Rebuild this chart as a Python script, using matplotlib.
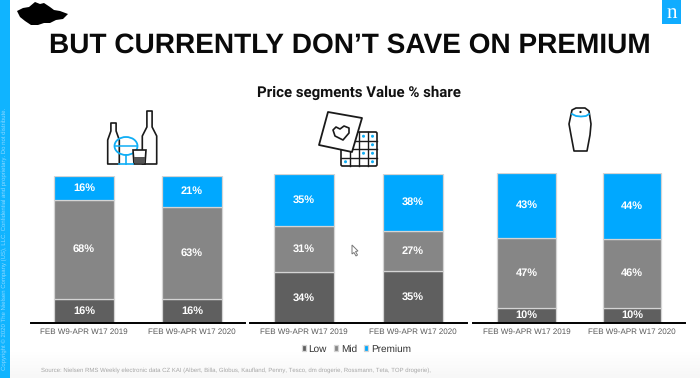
import matplotlib
matplotlib.use("Agg")
import matplotlib.pyplot as plt
from matplotlib.patches import Polygon, Rectangle, FancyBboxPatch, Circle, Ellipse
import numpy as np

plt.rcParams['font.family'] = ['Liberation Sans', 'DejaVu Sans']
plt.rcParams['text.hinting'] = 'no_hinting'
plt.rcParams['text.hinting_factor'] = 1

periods = ["FEB W9-APR W17 2019", "FEB W9-APR W17 2020"]
segments = ["Low", "Mid", "Premium"]
low_values = [[16, 16], [34, 35], [10, 10]]
mid_values = [[68, 63], [31, 27], [47, 46]]
premium_values = [[16, 21], [35, 38], [43, 44]]
title_text = "BUT CURRENTLY DON\u2019T SAVE ON PREMIUM"
subtitle_text = "Price segments Value % share"
source_text = ("Source: Nielsen RMS Weekly electronic data CZ KAI (Albert, Billa, Globus, Kaufland, "
               "Penny, Tesco, dm drogerie, Rossmann, Teta, TOP drogerie),")
copyright_text = ("Copyright \u00a9 2020 The Nielsen Company (US), LLC. Confidential and proprietary. "
                  "Do not distribute.")

COLORS = ["#5f5f5f", "#868686", "#00a8ff"]
W, H = 700, 378
fig = plt.figure(figsize=(7, 3.78), dpi=100, facecolor="white")

# pixel-space overlay for slide furniture
bg = fig.add_axes([0, 0, 1, 1], zorder=0)
bg.set_xlim(0, W); bg.set_ylim(H, 0); bg.axis("off")

# left strip
bg.add_patch(Rectangle((0, 0), 10, H, color="#10b4ff", lw=0))
bg.text(4.5, 370, copyright_text, rotation=90, ha="center", va="bottom",
        fontsize=4.1, color="#8fd9ff")
# soft bottom fade
bg.imshow(np.linspace(1, 0.965, 30)[:, None], extent=(10, W, H, H - 30), cmap="gray",
          vmin=0, vmax=1, aspect="auto", zorder=0)
bg.set_xlim(0, W); bg.set_ylim(H, 0)

# map of the country
czech = [(17, 11), (23, 8), (29, 7), (35, 2), (40, 4), (44, 3), (50, 7), (54, 10), (60, 11),
         (68, 14), (63, 19), (56, 20), (50, 23), (44, 23), (38, 25), (31, 25), (25, 21), (20, 17)]
bg.add_patch(Polygon(czech, closed=True, color="black", lw=0))

# logo
bg.add_patch(Rectangle((662, 0), 19, 24, color="#10acff", lw=0))
bg.text(671.5, 13, "n", color="white", family="Liberation Serif", fontsize=15, ha="center", va="center")

bg.text(350, 45, title_text, ha="center", va="center", fontsize=20.45, fontweight="bold", color="#0a0a0a")
bg.text(359, 93, subtitle_text, ha="center", va="center", fontsize=10.6, fontweight="bold",
        family="Roboto", color="#111111")

# --- icons ---
K = "#1a1a1a"; B = "#10aef5"
def bottle(cx, top, bottom, half, neck, shoulder):
    pts = [(cx - neck, top), (cx + neck, top), (cx + neck, shoulder), (cx + half, shoulder + 9),
           (cx + half, bottom), (cx - half, bottom), (cx - half, shoulder + 9), (cx - neck, shoulder)]
    bg.add_patch(Polygon(pts, closed=True, fill=False, ec=K, lw=1.2, joinstyle="round"))
bottle(113.5, 123, 164, 5.8, 2.6, 131)
bottle(149.5, 111, 164, 7.2, 2.6, 127)
bg.add_patch(Ellipse((126, 146), 23, 18, fill=False, ec=B, lw=1.3))
bg.plot([115, 137], [146, 146], color=B, lw=1.1)
bg.plot([126, 126], [155, 164], color=B, lw=1.2)
bg.plot([119, 133], [164, 164], color=B, lw=1.2)
bg.add_patch(Polygon([(133, 150), (146, 150), (145, 164), (134, 164)], closed=True, fc="white", ec=K, lw=1.2))
bg.add_patch(Rectangle((134, 157), 11, 6, color="#555555", lw=0))

# grid and card
gx, gy, cw, ch = 341, 132, 9, 8.5
bg.add_patch(FancyBboxPatch((gx, gy), 4 * cw, 4 * ch, boxstyle="round,pad=0,rounding_size=1.5",
                            fc="white", ec=K, lw=1.2))
for i in range(1, 4):
    bg.plot([gx + i * cw] * 2, [gy, gy + 4 * ch], color=K, lw=1)
    bg.plot([gx, gx + 4 * cw], [gy + i * ch] * 2, color=K, lw=1)
for c, r in [(2, 0), (3, 0), (3, 1), (2, 2), (3, 2), (0, 3), (3, 3)]:
    bg.add_patch(Circle((gx + (c + .5) * cw, gy + (r + .5) * ch), 1.5, color=B, lw=0))
bg.add_patch(Polygon([(328, 112), (362, 118), (352, 152), (319, 145)], closed=True,
                     fc="white", ec=K, lw=1.3, joinstyle="round", zorder=3))
heart = [(340, 129), (344, 126), (349, 128), (349, 133), (343, 140), (335, 136), (333, 130), (336, 127)]
bg.add_patch(Polygon(heart, closed=True, fill=False, ec=K, lw=1.2, joinstyle="round", zorder=4))

# spray bottle
sb = [(572, 110), (576, 108), (585, 108), (589, 111), (591, 124), (590, 135), (587, 151),
      (574, 151), (571, 135), (569, 124)]
bg.add_patch(Polygon(sb, closed=True, fill=False, ec=K, lw=1.2, joinstyle="round"))
bg.plot([572, 576, 581, 586, 589], [114, 116, 116.5, 116, 114], color=B, lw=1.3)
bg.add_patch(Circle((580.5, 112), 1.1, color=K, lw=0))

# cursor
bg.add_patch(Polygon([(352, 245), (352, 254), (354, 252.5), (356, 256), (357.5, 255), (355.5, 251.5), (358, 251)],
                     closed=True, fc="white", ec="#777777", lw=0.7))

bg.text(41, 370.5, source_text, ha="left", va="center", fontsize=4.1, color="#a6a6a6")

# --- charts ---
# x0, x1, top-of-100% pixel, baseline pixel, bar centres, bar width
panels = [
    (31, 245, 176, 323, (84, 192), 60),
    (250, 467, 174, 323, (304, 412.5), 60),
    (473, 685, 173, 323, (526.5, 632), 58.5),
]
containers = None
for i, (x0, x1, top, base, centres, bw) in enumerate(panels):
    ax = fig.add_axes([x0 / W, 1 - base / H, (x1 - x0) / W, (base - top) / H], zorder=2)
    ax.patch.set_alpha(0)
    ax.set_xlim(x0, x1); ax.set_ylim(0, 100)
    bottom = np.zeros(2)
    handles = []
    for vals, col, name in zip((low_values[i], mid_values[i], premium_values[i]), COLORS, segments):
        bars = ax.bar(centres, vals, bw, bottom=bottom, color=col, edgecolor="#d4d4d4",
                      linewidth=0.9, label=name)
        handles.append(bars)
        for c, v, b in zip(centres, vals, bottom):
            ax.text(c, b + v / 2, f"{v}%", ha="center", va="center", color="white",
                    fontsize=8.2, fontweight="bold")
        bottom = bottom + np.array(vals)
    if containers is None:
        containers = handles
    ax.set_xticks(centres, periods)
    ax.tick_params(axis="x", length=0, pad=4, labelsize=5.8, labelcolor="#595959")
    ax.set_yticks([])
    for s in ("top", "left", "right"):
        ax.spines[s].set_visible(False)
    ax.spines["bottom"].set_color("black")
    ax.spines["bottom"].set_linewidth(1.4)

fig.legend(containers, segments, loc="center", bbox_to_anchor=(356.5 / W, 1 - 349 / H), ncols=3,
           frameon=False, fontsize=7.3, labelcolor="#333333", handlelength=0.4, handleheight=0.4,
           handletextpad=0.3, columnspacing=0.7, borderpad=0, borderaxespad=0)

fig.savefig("out.png", dpi=100)
